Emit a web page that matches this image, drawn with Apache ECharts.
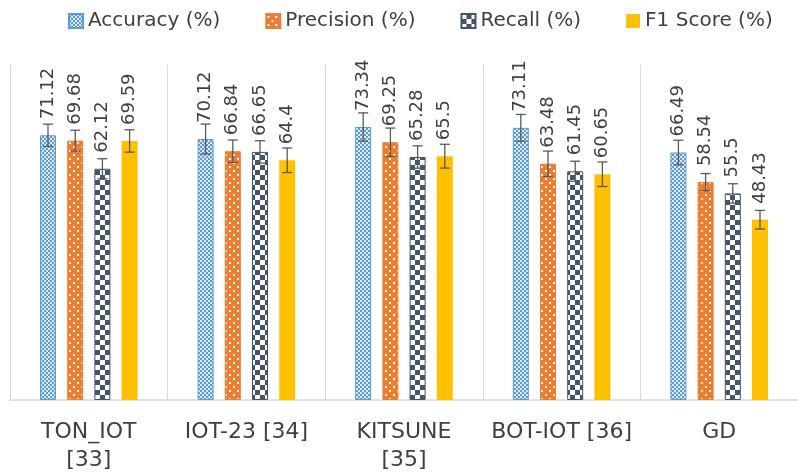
<!DOCTYPE html>
<html>
<head>
<meta charset="utf-8">
<script src="https://cdn.jsdelivr.net/npm/echarts@6/dist/echarts.min.js"></script>
<style>
  html, body { margin: 0; padding: 0; background: #ffffff; }
  #chart { width: 798px; height: 476px; }
</style>
</head>
<body>
<div id="chart"></div>
<script>
// Datasets compared (long names wrap onto a second line)
const categories = ['TON_IOT\n[33]', 'IOT-23 [34]', 'KITSUNE\n[35]', 'BOT-IOT [36]', 'GD'];

// Metric values (%)
const accuracy  = [71.12, 70.12, 73.34, 73.11, 66.49];
const precision = [69.68, 66.84, 69.25, 63.48, 58.54];
const recall    = [62.12, 66.65, 65.28, 61.45, 55.5];
const f1Score   = [69.59, 64.4, 65.5, 60.65, 48.43];

// Error bar half-widths (%)
const accuracyErr  = [3.0, 4.0, 3.8, 3.6, 3.3];
const precisionErr = [2.8, 3.0, 3.8, 3.4, 2.3];
const recallErr    = [2.7, 3.0, 3.0, 2.7, 2.6];
const f1Err        = [3.0, 3.3, 3.2, 3.3, 2.5];

const seriesNames = ['Accuracy (%)', 'Precision (%)', 'Recall (%)', 'F1 Score (%)'];

const FONT = 'DejaVu Sans';
const TEXT = '#404040';
const BAR_W = 16;
const GAP_PCT = 70;
const STEP = BAR_W * (1 + GAP_PCT / 100);

// Small repeating fill tiles for the patterned bars
function makeTile(w, h, bg, fg, cells) {
  const c = document.createElement('canvas');
  c.width = w; c.height = h;
  const g = c.getContext('2d');
  g.fillStyle = bg; g.fillRect(0, 0, w, h);
  g.fillStyle = fg;
  cells.forEach(([x, y, cw, ch]) => g.fillRect(x, y, cw, ch));
  return c;
}
const accTile  = makeTile(4, 4, '#5B9BD5', '#DDEBF7', [[0, 0, 2, 2], [2, 2, 2, 2]]);
const precTile = makeTile(8, 8, '#ED7D31', '#ffffff', [[1, 2, 2, 2], [5, 6, 2, 2]]);
const recTile  = makeTile(10, 10, '#44546A', '#ffffff', [[0, 0, 5, 5], [5, 5, 5, 5]]);

const labelOpt = {
  show: true,
  position: 'top',
  rotate: 90,
  align: 'left',
  verticalAlign: 'middle',
  distance: 15,
  offset: [1, 0],
  color: TEXT,
  fontFamily: FONT,
  fontSize: 18
};

function barSeries(name, values, color, border) {
  return {
    name: name,
    type: 'bar',
    data: values,
    barWidth: BAR_W,
    barGap: GAP_PCT + '%',
    itemStyle: { color: color, borderColor: border, borderWidth: border ? 1 : 0 },
    label: labelOpt,
    z: 2
  };
}

// Vertical error bars with caps, drawn over each bar
function errorSeries(values, errs, idx) {
  const offset = (idx - 1.5) * STEP;
  return {
    type: 'custom',
    silent: true,
    z: 5,
    encode: { x: 0, y: [1, 2] },
    data: values.map((v, i) => [i, v - errs[i], v + errs[i]]),
    renderItem(params, api) {
      const lo = api.coord([api.value(0), api.value(1)]);
      const hi = api.coord([api.value(0), api.value(2)]);
      const x = lo[0] + offset;
      const cap = 5;
      const style = { stroke: '#595959', lineWidth: 1.3 };
      return {
        type: 'group',
        children: [
          { type: 'line', shape: { x1: x, y1: hi[1], x2: x, y2: lo[1] }, style: style },
          { type: 'line', shape: { x1: x - cap, y1: hi[1], x2: x + cap, y2: hi[1] }, style: style },
          { type: 'line', shape: { x1: x - cap, y1: lo[1], x2: x + cap, y2: lo[1] }, style: style }
        ]
      };
    }
  };
}

const chart = echarts.init(document.getElementById('chart'), null, { renderer: 'canvas' });
chart.setOption({
  animation: false,
  backgroundColor: '#ffffff',
  legend: {
    data: seriesNames,
    icon: 'rect',
    left: 63,
    top: 6,
    itemWidth: 14,
    itemHeight: 14,
    itemGap: 45,
    textStyle: { color: TEXT, fontFamily: FONT, fontSize: 20 }
  },
  grid: { left: 10, top: 65, width: 792, height: 335 },
  xAxis: {
    type: 'category',
    data: categories,
    axisLine: { lineStyle: { color: '#D9D9D9', width: 1.5 } },
    axisTick: { show: false },
    splitLine: { show: true, lineStyle: { color: '#D9D9D9', width: 1 } },
    axisLabel: { color: TEXT, fontFamily: FONT, fontSize: 22, lineHeight: 28, margin: 18, interval: 0 }
  },
  yAxis: { type: 'value', min: 0, max: 90, show: false },
  series: [
    barSeries(seriesNames[0], accuracy, { image: accTile, repeat: 'repeat' }, '#5B9BD5'),
    barSeries(seriesNames[1], precision, { image: precTile, repeat: 'repeat' }, '#ED7D31'),
    barSeries(seriesNames[2], recall, { image: recTile, repeat: 'repeat' }, '#44546A'),
    barSeries(seriesNames[3], f1Score, '#FFC000', null),
    errorSeries(accuracy, accuracyErr, 0),
    errorSeries(precision, precisionErr, 1),
    errorSeries(recall, recallErr, 2),
    errorSeries(f1Score, f1Err, 3)
  ]
});
</script>
</body>
</html>
